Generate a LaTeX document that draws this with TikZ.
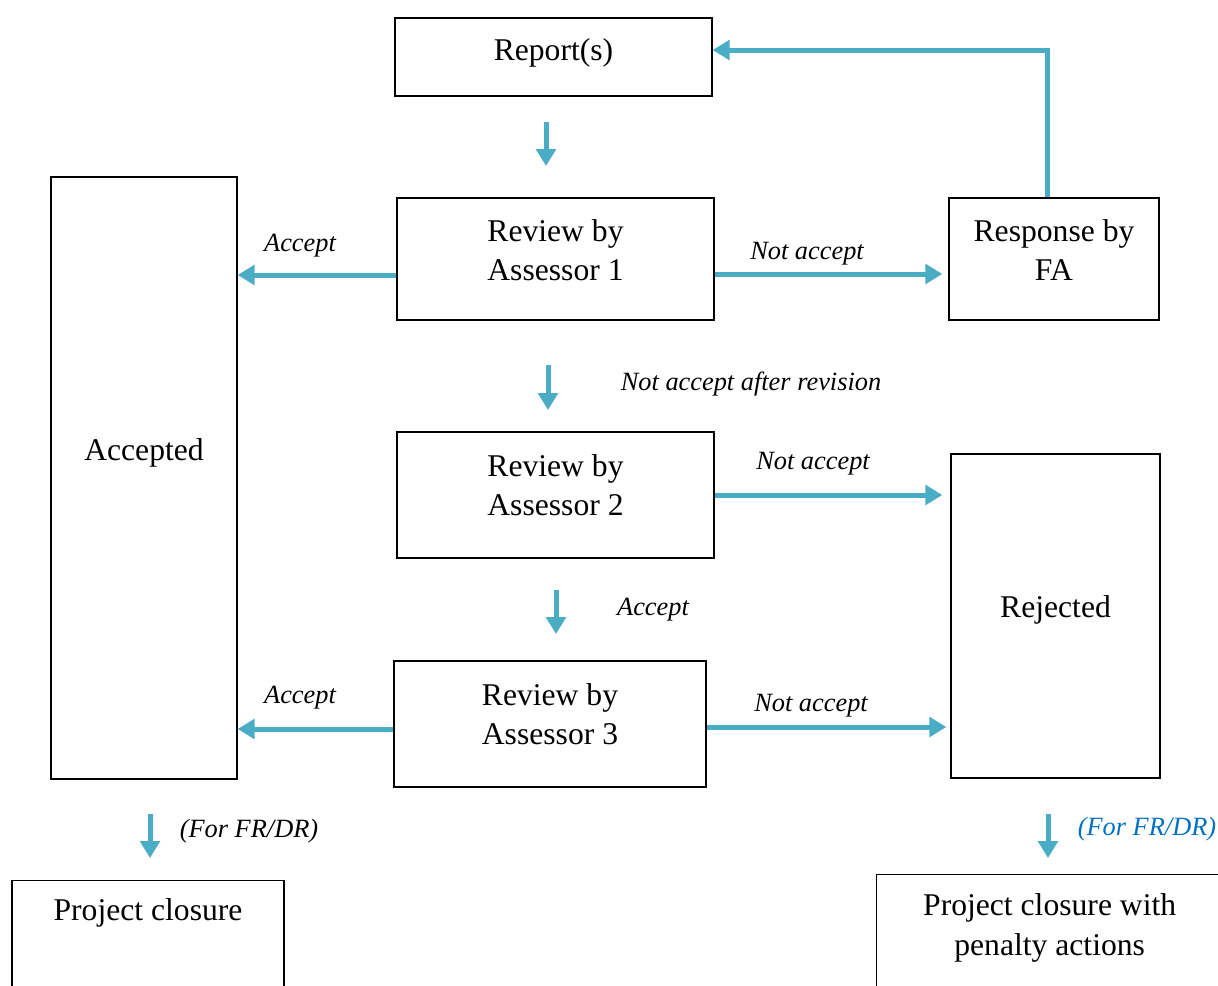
\documentclass[tikz,border=0pt]{standalone}
\usepackage{fontspec}
\setmainfont{Liberation Serif}
\usetikzlibrary{arrows.meta,calc}
\definecolor{flowblue}{HTML}{4BACC6}
\definecolor{noteblue}{HTML}{0070C0}
\tikzset{
    box/.style={draw, line width=0.75pt, inner sep=0pt, align=center, font=\fontsize{18}{22.7}\selectfont},
    flow/.style={-{Triangle[length=3.4mm, width=3.9mm]}, line width=1mm, flowblue},
    lab/.style={font=\fontsize{15}{17}\selectfont\itshape, inner sep=0pt}
}

\begin{document}
\begin{tikzpicture}[x=0.2mm, y=-0.2mm]
\useasboundingbox (0,0) rectangle (1218,985);

\node[box, minimum width=63.4mm, minimum height=15.6mm, text depth=3mm] (rep) at (553.5,57) {Report(s)};
\node[box, minimum width=37.2mm, minimum height=120.4mm, text depth=11.4mm] (acc) at (144,478) {Accepted};
\node[box, minimum width=63.4mm, minimum height=24.4mm, text depth=3.6mm] (rev1) at (555.5,259) {Review by\\Assessor 1};
\node[box, minimum width=42mm, minimum height=24.4mm, text depth=3.6mm] (resp) at (1054,259) {Response by\\FA};
\node[box, minimum width=63.4mm, minimum height=25.2mm, text depth=4mm] (rev2) at (555.5,495) {Review by\\Assessor 2};
\node[box, minimum width=41.8mm, minimum height=64.8mm, text depth=3.8mm] (rej) at (1055.5,616) {Rejected};
\node[box, minimum width=62.4mm, minimum height=25.2mm, text depth=4mm] (rev3) at (550,724) {Review by\\Assessor 3};
\node[box, anchor=north, minimum width=54.4mm, text height=8mm, text depth=20mm] (close) at (148,880) {Project closure};
\node[box, anchor=north west, minimum width=69.2mm, text height=16.2mm, text depth=20mm] (pen) at (876,874) {Project closure with\\penalty actions};

\coordinate (d1a) at (546,122);
\coordinate (d1b) at (546,166);
\coordinate (d2a) at (548,365);
\coordinate (d2b) at (548,410);
\coordinate (d3a) at (556,590);
\coordinate (d3b) at (556,634);
\coordinate (d4a) at (150,814);
\coordinate (d4b) at (150,858);
\coordinate (d5a) at (1048,814);
\coordinate (d5b) at (1048,858);

\draw[flow] (d1a) -- (d1b);
\draw[flow] (d2a) -- (d2b);
\draw[flow] (d3a) -- (d3b);
\draw[flow] (d4a) -- (d4b);
\draw[flow] (d5a) -- (d5b);

\draw[flow] ([yshift=-3.2mm]rev1.west) -- ([yshift=-3.2mm]rev1.west -| acc.east);
\draw[flow, shorten >=1.2mm] ([yshift=-3mm]rev1.east) -- ([yshift=-3mm]rev1.east -| resp.west);
\draw[flow] ([xshift=-1.4mm]resp.north) |- ([yshift=1.4mm]rep.east);
\draw[flow, shorten >=1.6mm] (rev2.east) -- (rev2.east -| rej.west);
\draw[flow] ([yshift=-1mm]rev3.west) -- ([yshift=-1mm]rev3.west -| acc.east);
\draw[flow, shorten >=0.8mm] ([yshift=-0.6mm]rev3.east) -- ([yshift=-0.6mm]rev3.east -| rej.west);

\node[lab] (l1) at (300,246) {Accept};
\node[lab] (l2) at (807,254) {Not accept};
\node[lab] (l3) at (751,384) {Not accept after revision};
\node[lab] (l4) at (813,464) {Not accept};
\node[lab] (l5) at (653,610) {Accept};
\node[lab] (l6) at (300,698) {Accept};
\node[lab] (l7) at (811,706) {Not accept};
\node[lab] (l8) at (249,831) {(For FR/DR)};
\node[lab, text=noteblue] (l9) at (1147,829) {(For FR/DR)};
\end{tikzpicture}
\end{document}
